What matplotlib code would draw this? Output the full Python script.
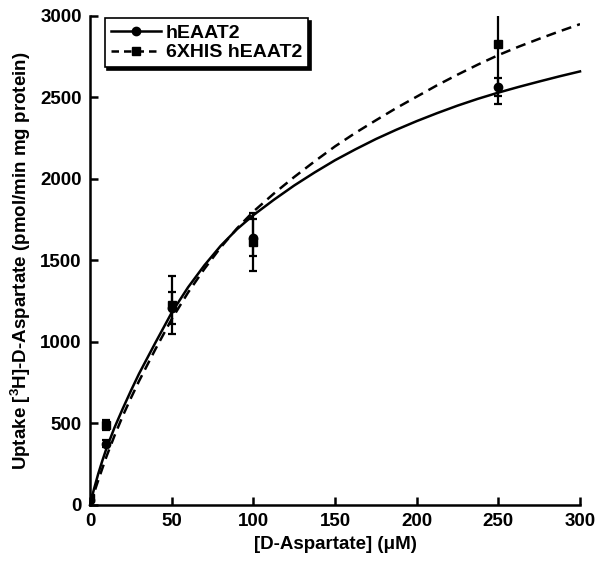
import matplotlib
matplotlib.use("Agg")
import matplotlib.pyplot as plt
from matplotlib.lines import Line2D

plt.rcParams['font.family'] = ['Liberation Sans', 'DejaVu Sans']
plt.rcParams['font.weight'] = 'bold'
plt.rcParams['mathtext.fontset'] = 'custom'
plt.rcParams['mathtext.bf'] = 'Liberation Sans:bold'
plt.rcParams['mathtext.rm'] = 'Liberation Sans:bold'
plt.rcParams['mathtext.default'] = 'bf'

# measured data points
conc = [0, 10, 50, 100, 250]
heaat2_mean = [30, 376, 1210, 1640, 2565]
heaat2_err = [10, 20, 97, 115, 56]
his_mean = [40, 490, 1228, 1612, 2830]
his_err = [10, 30, 177, 177, 372]

# fitted curves
curve_x = [0, 2.5, 5, 7.5, 10, 15, 20, 25, 30, 40, 50, 60, 70, 80, 90, 100, 112.5, 125, 137.5,
           150, 162.5, 175, 187.5, 200, 212.5, 225, 237.5, 250, 262.5, 275, 287.5, 300]
heaat2_fit = [0, 100, 190, 270, 345, 475, 590, 700, 805, 995, 1180, 1335, 1470, 1590, 1692, 1778,
              1872, 1960, 2040, 2115, 2182, 2245, 2302, 2355, 2404, 2450, 2492, 2530, 2565, 2598, 2630, 2660]
his_fit = [0, 75, 150, 223, 295, 425, 545, 655, 760, 955, 1140, 1303, 1448, 1580, 1697, 1800,
           1910, 2012, 2108, 2200, 2283, 2360, 2435, 2505, 2575, 2640, 2702, 2760, 2812, 2860, 2906, 2950]

xticks = [0, 50, 100, 150, 200, 250, 300]
yticks = [0, 500, 1000, 1500, 2000, 2500, 3000]

fig = plt.figure(figsize=(6.0, 5.65), dpi=100)
ax = fig.add_axes([0.15, 0.1062, 0.8167, 0.8655])

lw = 1.8
ax.plot(curve_x, heaat2_fit, color='black', lw=lw, ls='-', clip_on=False, zorder=3)
ax.plot(curve_x, his_fit, color='black', lw=lw, ls=(0, (4, 2.5)), clip_on=True, zorder=3)

ax.errorbar(conc, heaat2_mean, yerr=heaat2_err, fmt='o', color='black', ms=6,
            elinewidth=1.6, capsize=3, capthick=1.6, zorder=4, clip_on=True)
ax.errorbar(conc, his_mean, yerr=his_err, fmt='s', color='black', ms=6,
            elinewidth=1.6, capsize=3, capthick=1.6, zorder=4, clip_on=True)

ax.set_xlim(0, 300)
ax.set_ylim(0, 3000)
ax.set_xticks(xticks)
ax.set_yticks(yticks)
ax.set_xticklabels([str(t) for t in xticks])
ax.set_yticklabels([str(t) for t in yticks])

for s in ['top', 'right']:
    ax.spines[s].set_visible(False)
for s in ['left', 'bottom']:
    ax.spines[s].set_linewidth(1.8)

ax.tick_params(direction='in', length=6, width=1.8, labelsize=13.5, pad=6)
for lab in ax.get_xticklabels() + ax.get_yticklabels():
    lab.set_fontweight('bold')

ax.set_xlabel('[D-Aspartate] (μM)', fontsize=13.5, fontweight='bold', labelpad=4)
ax.set_ylabel('Uptake [$^{3}$H]-D-Aspartate (pmol/min mg protein)', fontsize=13.5,
              fontweight='bold', labelpad=5)

handles = [
    Line2D([], [], color='black', lw=lw, ls='-', marker='o', ms=6),
    Line2D([], [], color='black', lw=lw, ls=(0, (3, 2)), marker='s', ms=6),
]
leg = ax.legend(handles, ['hEAAT2', '6XHIS hEAAT2'], loc='upper left',
                bbox_to_anchor=(0.03, 0.995), borderaxespad=0, fancybox=False,
                shadow={'color': 'black', 'alpha': 1}, frameon=True,
                prop={'size': 14, 'weight': 'bold'}, handlelength=2.6,
                handletextpad=0.25, borderpad=0.3, labelspacing=0.1)
leg.get_frame().set_edgecolor('black')
leg.get_frame().set_linewidth(1.2)

fig.savefig('out.png', dpi=100)
